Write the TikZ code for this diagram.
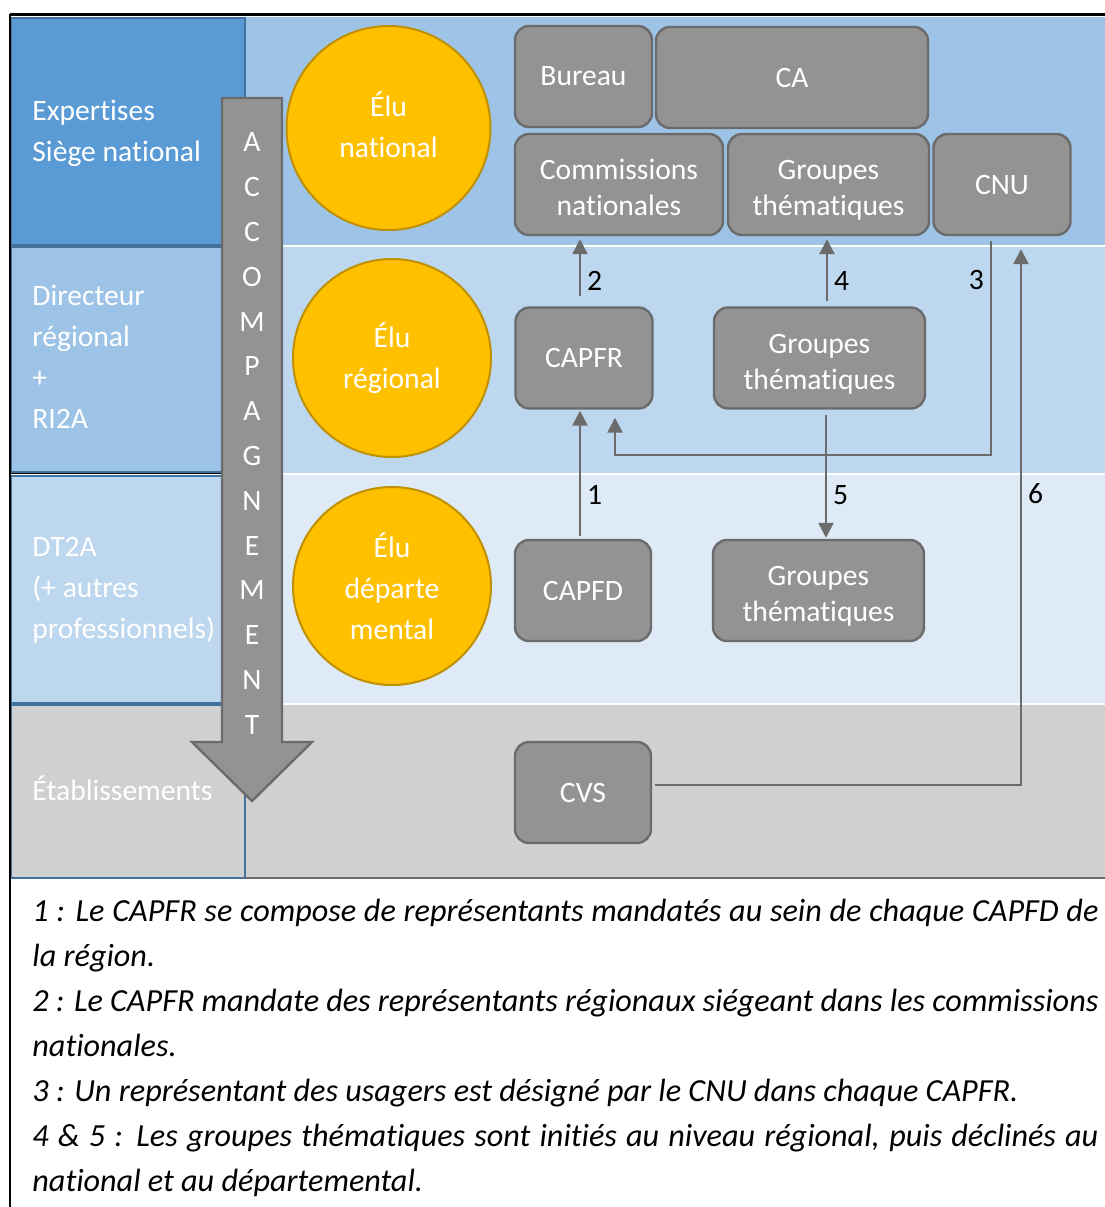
\documentclass[tikz,border=0pt]{standalone}
\usepackage{fontspec}
\setmainfont{Carlito}[Ligatures={NoCommon}]
\usepackage{tikz}
\usetikzlibrary{calc, positioning, arrows.meta}
\definecolor{bleuA}{HTML}{5B9BD5}
\definecolor{bleuB}{HTML}{9DC3E6}
\definecolor{bleuC}{HTML}{BDD7EE}
\definecolor{bleuD}{HTML}{DEEBF7}
\definecolor{bleuBord}{HTML}{41719C}
\definecolor{grisFond}{HTML}{D0D0D0}
\definecolor{grisBoite}{HTML}{939393}
\definecolor{grisBord}{HTML}{6B6B6B}
\definecolor{orElu}{HTML}{FFC000}
\definecolor{orBord}{HTML}{BF9000}
\hyphenpenalty=10000
\exhyphenpenalty=10000
\tikzstyle{boite}=[draw=grisBord, fill=grisBoite, line width=1.2pt, rounded corners=7pt, text=white, align=center, minimum height=50.5pt, inner sep=2pt, font=\fontsize{14.8}{18}\selectfont]
\tikzstyle{elu}=[draw=orBord, fill=orElu, line width=1pt, shape=circle, text=white, align=center, inner sep=0pt, font=\fontsize{14.8}{20.5}\selectfont]
\tikzstyle{entete}=[text=white, align=left, anchor=west, inner sep=0pt, font=\fontsize{14.8}{20.5}\selectfont]
\tikzstyle{fleche}=[draw=grisBord, line width=1.2pt, ->]
\tikzstyle{num}=[text=black, inner sep=3pt, font=\fontsize{14.8}{18}\selectfont]
\tikzstyle{legende}=[text width=533pt, align=justify, inner sep=0pt, font=\fontsize{16.1}{22.5}\selectfont\itshape]
\tikzset{>={Triangle[width=7.5pt,length=7.5pt]}}
% deux lignes dans une boite, un peu plus bas que le centre
\newcommand{\deuxl}[2]{\rule{0pt}{17.1pt}#1\\#2\rule[-4pt]{0pt}{4pt}}

\begin{document}
\begin{tikzpicture}[x=0.5pt, y=-0.5pt]
\useasboundingbox (0,0) rectangle (1105,1207);
% bandes
\fill[bleuB] (245,17) rectangle (1105,244.5);
\fill[bleuC] (245,246.5) rectangle (1105,472.5);
\fill[bleuD] (245,474.5) rectangle (1105,702.5);
\fill[grisFond] (245,705) rectangle (1105,878);
% en-tetes
\filldraw[fill=bleuA, draw=bleuBord, line width=1pt] (10.5,17.5) rectangle (245,245);
\filldraw[fill=bleuB, draw=bleuBord, line width=1pt] (10.5,247) rectangle (245,472);
\filldraw[fill=bleuC, draw=bleuBord, line width=1pt] (10.5,476) rectangle (245,703);
\filldraw[fill=grisFond, draw=bleuBord, line width=1pt] (10.5,705) rectangle (245,878);
\draw[black, line width=0.6pt] (10,473.8) -- (245,473.8);
\draw[grisBord, line width=0.6pt] (245,878) -- (1105,878);
\draw[black, line width=1.5pt] (10,14) -- (1105,14);
\draw[black, line width=0.8pt] (10,14) -- (10,1207);
\node[entete] (Hnat) at (32,133.5) {Expertises\\Siège national};
\node[entete] (Hreg) at (32,357) {Directeur\\régional\\+\\RI2A};
\node[entete] (Hdep) at (32,590) {DT2A\\(+ autres\\professionnels)};
\node[entete] (Heta) at (32,788) {Établissements};
% accompagnement
\filldraw[fill=grisBoite, draw=grisBord, line width=1.2pt] (222,98) -- (282,98) -- (282,742) -- (312,742) -- (252,801) -- (192,742) -- (222,742) -- cycle;
\node[text=white, align=center, inner sep=0pt, font=\fontsize{14.8}{22.4}\selectfont] (Acc) at (252,433.5) {A\\C\\C\\O\\M\\P\\A\\G\\N\\E\\M\\E\\N\\T};
% elus
\node[elu, minimum size=102pt] (EN) at (388.5,128) {Élu\\national\rule[-3pt]{0pt}{3pt}};
\node[elu, minimum size=99pt] (ER) at (392,358) {Élu\\régional};
\node[elu, minimum size=99pt] (ED) at (392,586) {Élu\\départe\\mental};
% instances
\node[boite, minimum width=68.5pt] (Bur) at (583.5,76.5) {Bureau};
\node[boite, minimum width=136pt] (CA) at (792,77.5) {CA};
\node[boite, minimum width=104pt] (ComN) at (619,184.5) {\deuxl{Commissions}{nationales}};
\node[boite, minimum width=100.5pt] (GrN) at (828.5,184.5) {\deuxl{Groupes}{thématiques}};
\node[boite, minimum width=68.5pt] (CNU) at (1002,184.5) {CNU};
\node[boite, minimum width=68.5pt] (CR) at (584,358) {CAPFR};
\node[boite, minimum width=105.5pt] (GrR) at (819.5,358) {\deuxl{Groupes}{thématiques}};
\node[boite, minimum width=68pt] (CD) at (583,590.5) {CAPFD};
\node[boite, minimum width=105.5pt] (GrD) at (818.5,590.5) {\deuxl{Groupes}{thématiques}};
\node[boite, minimum width=68pt] (CVS) at (583,792.5) {CVS};
% liens
\coordinate (d2) at ($(CR.north)+(-4,-10)$);
\draw[fleche, shorten >=1.5pt] (d2) -- (d2 |- ComN.south) node[num, right, pos=0.26] {2};
\coordinate (d4) at ($(GrR.north)+(7.5,-5)$);
\draw[fleche, shorten >=1.5pt] (d4) -- (d4 |- GrN.south) node[num, right, pos=0.31] {4};
\draw[fleche] ($(CNU.south)+(-11,5)$) |- node[num, left, pos=0.092] {3} ($(CR.south)+(31,45)$) -- ($(CR.south)+(31,8)$);
\coordinate (d1) at ($(CD.north)+(-3,-3)$);
\draw[fleche, shorten >=0.5pt] (d1) -- (d1 |- CR.south) node[num, right, pos=0.32] {1};
\coordinate (d5) at ($(GrR.south)+(6.5,5)$);
\draw[fleche, shorten >=0.5pt] (d5) -- (d5 |- GrD.north) node[num, right, pos=0.65] {5};
\draw[fleche] ($(CVS.east)+(3,-7.5)$) -| node[num, right, pos=0.772] {6} ($(CNU.south)+(19,13)$);
% notes
\node[legende, anchor=north west] (Leg) at (32,899) {1~: Le CAPFR se compose de représentants mandatés au sein de chaque CAPFD de\linebreak la région.\\
2~: Le CAPFR mandate des représentants régionaux siégeant dans les commissions\linebreak nationales.\\
3~: Un représentant des usagers est désigné par le CNU dans chaque CAPFR.\\
4 \& 5~: Les groupes thématiques sont initiés au niveau régional, puis déclinés au\linebreak national et au départemental.};
\end{tikzpicture}
\end{document}
